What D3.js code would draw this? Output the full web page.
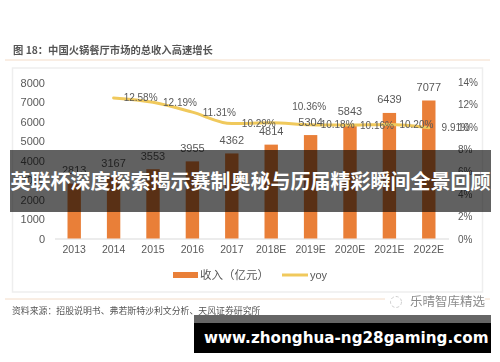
<!DOCTYPE html>
<html>
<head>
<meta charset="utf-8">
<script src="https://cdn.jsdelivr.net/npm/d3@7/dist/d3.min.js"></script>
<style>
html, body { margin: 0; padding: 0; background: #fff; }
text { font-family: "Liberation Sans", "Noto Sans CJK SC", sans-serif; }
.cjk { font-family: "Noto Sans CJK SC", sans-serif; }
</style>
</head>
<body>
<script>
// data
var years = ["2013", "2014", "2015", "2016", "2017", "2018E", "2019E", "2020E", "2021E", "2022E"];
var revenue = [2813, 3167, 3553, 3955, 4362, 4814, 5304, 5843, 6439, 7077];
var yoy = [null, 12.58, 12.19, 11.31, 10.29, 10.36, 10.18, 10.16, 10.20, 9.91];
var leftTicks = [0, 1000, 2000, 3000, 4000, 5000, 6000, 7000, 8000];
var rightTicks = [0, 2, 4, 6, 8, 10, 12, 14];

var w = 500;
var h = 362;
var barColor = "#e97f38";
var lineColor = "#f0c95c";
var textColor = "#595959";

var svg = d3.select("body").append("svg")
    .attr("width", w)
    .attr("height", h)
    .style("display", "block");

// the reference is a soft jpeg, so the chart part gets a small blur
svg.append("defs").append("filter")
    .attr("id", "soft")
    .append("feGaussianBlur")
    .attr("stdDeviation", 0.45);

var chart = svg.append("g").attr("filter", "url(#soft)");

// title, rules and chart frame
chart.append("text")
    .attr("class", "cjk")
    .attr("x", 13)
    .attr("y", 54)
    .attr("font-size", 10.3)
    .attr("font-weight", 700)
    .attr("fill", "#555")
    .text("图 18：中国火锅餐厅市场的总收入高速增长");

chart.append("line").attr("x1", 5).attr("x2", 490).attr("y1", 60).attr("y2", 60)
    .attr("stroke", "#f3dcc8");
chart.append("line").attr("x1", 5).attr("x2", 490).attr("y1", 299).attr("y2", 299)
    .attr("stroke", "#f3dcc8");
chart.append("rect")
    .attr("x", 12.5).attr("y", 68).attr("width", 470).attr("height", 224)
    .attr("fill", "#fff").attr("stroke", "#eeeeee").attr("stroke-width", 1.5);

// scales
var xScale = d3.scaleBand()
    .domain(years)
    .range([54.5, 448.5])
    .paddingInner(0.66)
    .paddingOuter(0.33);
var yScale = d3.scaleLinear().domain([0, 8000]).range([238.5, 82.5]);
var yRight = d3.scaleLinear().domain([0, 14]).range([239, 82]);

function centre(year) {
    return xScale(year) + xScale.bandwidth() / 2;
}

// axes
var xAxis = d3.axisBottom(xScale).tickSize(0).tickPadding(7);
var leftAxis = d3.axisLeft(yScale).tickValues(leftTicks).tickSize(0).tickPadding(0)
    .tickFormat(d3.format("d"));
var rightAxis = d3.axisRight(yRight).tickValues(rightTicks).tickSize(0).tickPadding(0)
    .tickFormat(function(d) { return d + "%"; });

var gx = chart.append("g").attr("transform", "translate(0,238.5)").call(xAxis);
gx.select(".domain").attr("stroke", "#d9d9d9");
gx.selectAll("text").attr("font-size", 10.5).attr("fill", textColor)
    .attr("font-family", "Liberation Sans");

var gl = chart.append("g").attr("transform", "translate(45,0)").call(leftAxis);
gl.select(".domain").remove();
gl.selectAll("text").attr("font-size", 11).attr("fill", textColor)
    .attr("font-family", "Liberation Sans");

var gr = chart.append("g").attr("transform", "translate(458,0)").call(rightAxis);
gr.select(".domain").remove();
gr.selectAll("text").attr("font-size", 10).attr("fill", textColor)
    .attr("font-family", "Liberation Sans");

// bars
chart.selectAll("rect.bar")
    .data(revenue)
    .enter()
    .append("rect")
    .attr("class", "bar")
    .attr("x", function(d, i) { return xScale(years[i]); })
    .attr("y", function(d) { return yScale(d); })
    .attr("width", xScale.bandwidth())
    .attr("height", function(d) { return yScale(0) - yScale(d); })
    .attr("fill", barColor);

// yoy line
var line = d3.line()
    .defined(function(d) { return d !== null; })
    .x(function(d, i) { return centre(years[i]); })
    .y(function(d) { return yRight(d); })
    .curve(d3.curveMonotoneX);

chart.append("path")
    .attr("d", line(yoy))
    .attr("fill", "none")
    .attr("stroke", lineColor)
    .attr("stroke-width", 3)
    .attr("stroke-linecap", "round");

// value labels
chart.selectAll("text.rev")
    .data(revenue)
    .enter()
    .append("text")
    .attr("class", "rev")
    .attr("x", function(d, i) { return centre(years[i]); })
    .attr("y", function(d) { return yScale(d) - 9.5; })
    .attr("text-anchor", "middle")
    .attr("font-size", 11)
    .attr("fill", textColor)
    .text(function(d) { return d; });

chart.selectAll("text.yoy")
    .data(yoy)
    .enter()
    .filter(function(d) { return d !== null; })
    .append("text")
    .attr("class", "yoy")
    .attr("x", function(d, i) {
        var year = years[yoy.indexOf(d)];
        return centre(year) + (year === "2018E" ? 38 : 27);
    })
    .attr("y", function(d) {
        var year = years[yoy.indexOf(d)];
        return yRight(d) + 3.5 + (year === "2018E" ? -16 : 0);
    })
    .attr("text-anchor", "middle")
    .attr("font-size", 10)
    .attr("fill", textColor)
    .text(function(d) { return d.toFixed(2) + "%"; });

// legend
chart.append("rect").attr("x", 173).attr("y", 272).attr("width", 25).attr("height", 6)
    .attr("fill", barColor);
chart.append("text").attr("class", "cjk").attr("x", 200).attr("y", 279)
    .attr("font-size", 11.5).attr("fill", textColor).text("收入（亿元）");
chart.append("line").attr("x1", 282).attr("x2", 308).attr("y1", 275).attr("y2", 275)
    .attr("stroke", lineColor).attr("stroke-width", 3);
chart.append("text").attr("x", 310).attr("y", 279)
    .attr("font-size", 11).attr("fill", textColor).text("yoy");

// source and watermark
chart.append("text").attr("class", "cjk").attr("x", 12).attr("y", 314)
    .attr("font-size", 8.9).attr("fill", "#555")
    .text("资料来源：招股说明书、弗若斯特沙利文分析、天风证券研究所");
chart.append("rect").attr("x", 385).attr("y", 296).attr("width", 100).attr("height", 16)
    .attr("fill", "#fff");
chart.append("circle").attr("cx", 396).attr("cy", 302).attr("r", 5.5)
    .attr("fill", "none").attr("stroke", "#cfcfcf").attr("stroke-dasharray", "3 2");
chart.append("text").attr("class", "cjk").attr("x", 410).attr("y", 306)
    .attr("font-size", 12.5).attr("fill", "#8c8c8c").text("乐晴智库精选");

// overlay banners
svg.append("rect").attr("x", 10).attr("y", 150).attr("width", 481).attr("height", 62)
    .attr("fill", "#000").attr("fill-opacity", 0.62);
svg.append("text").attr("class", "cjk")
    .attr("x", 250.5).attr("y", 189)
    .attr("text-anchor", "middle")
    .attr("font-size", 20)
    .attr("font-weight", 700)
    .attr("fill", "#fff")
    .text("英联杯深度探索揭示赛制奥秘与历届精彩瞬间全景回顾");

svg.append("rect").attr("x", 194).attr("y", 315).attr("width", 297).attr("height", 8)
    .attr("fill", "#666");
svg.append("rect").attr("x", 194).attr("y", 323).attr("width", 297).attr("height", 30)
    .attr("fill", "#000");
svg.append("text")
    .attr("x", 204).attr("y", 343)
    .attr("font-size", 15.2)
    .attr("font-weight", 700)
    .attr("fill", "#fff")
    .style("font-family", "'DejaVu Sans'")
    .text("www.zhonghua-ng28gaming.com");
</script>
</body>
</html>
